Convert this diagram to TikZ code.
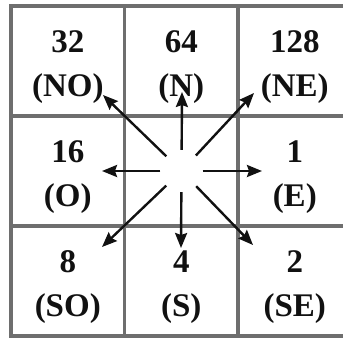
\documentclass[tikz,border=0pt]{standalone}
\usepackage{fontspec}
\setmainfont{Liberation Serif}
\usepackage{xcolor}
\definecolor{cGrid}{HTML}{6E6E6E}
\definecolor{cInk}{HTML}{111111}
\usetikzlibrary{positioning,arrows.meta}
\tikzset{
  node-cell/.style={draw=cGrid,line width=3.4pt,minimum width=113.5pt,
    minimum height=110pt,inner sep=0pt},
  node-code/.style={align=center,text=cInk,
    font=\fontsize{33}{44}\selectfont\bfseries},
  node-hub/.style={circle,minimum size=42pt,inner sep=0pt},
  arrow/.style={-{Stealth[length=15pt,width=12pt,inset=2pt]},
    line width=2.4pt,draw=cInk},
}

\begin{document}
\begin{tikzpicture}[x=1pt,y=-1pt]
  \useasboundingbox (0,0) rectangle (343,338);
  \clip (0,0) rectangle (343,338);
  % grid of neighbour codes
  \node[node-cell] (nw) at (67.75,61) {};
  \node[node-cell] (n) at (181.25,61) {};
  \node[node-cell] (ne) at (294.75,61) {};
  \node[node-cell] (w) at (67.75,171) {};
  \node[node-cell] (c) at (181.25,171) {};
  \node[node-cell] (e) at (294.75,171) {};
  \node[node-cell] (sw) at (67.75,281) {};
  \node[node-cell] (s) at (181.25,281) {};
  \node[node-cell] (se) at (294.75,281) {};
  \node[node-code,yshift=-6pt] (t-nw) at (nw) {32\\(NO)};
  \node[node-code,yshift=-6pt] (t-n) at (n) {64\\(N)};
  \node[node-code,yshift=-6pt] (t-ne) at (ne) {128\\(NE)};
  \node[node-code,yshift=-6pt] (t-w) at (w) {16\\(O)};
  \node[node-code,yshift=-6pt] (t-e) at (e) {1\\(E)};
  \node[node-code,yshift=-6pt] (t-sw) at (sw) {8\\(SO)};
  \node[node-code,yshift=-6pt] (t-s) at (s) {4\\(S)};
  \node[node-code,yshift=-6pt] (t-se) at (se) {2\\(SE)};
  % directions
  \node[node-hub] (hub) at (181.5,171) {};
  \coordinate (tip-n) at (182,92);
  \coordinate (tip-ne) at (254,93);
  \coordinate (tip-e) at (262,171);
  \coordinate (tip-se) at (253,245);
  \coordinate (tip-s) at (181,248);
  \coordinate (tip-sw) at (102,247);
  \coordinate (tip-w) at (102,171);
  \coordinate (tip-nw) at (103,95);
  \draw[arrow] (hub) -- (tip-n); \draw[arrow] (hub) -- (tip-ne);
  \draw[arrow] (hub) -- (tip-e); \draw[arrow] (hub) -- (tip-se);
  \draw[arrow] (hub) -- (tip-s); \draw[arrow] (hub) -- (tip-sw);
  \draw[arrow] (hub) -- (tip-w); \draw[arrow] (hub) -- (tip-nw);
\end{tikzpicture}
\end{document}
